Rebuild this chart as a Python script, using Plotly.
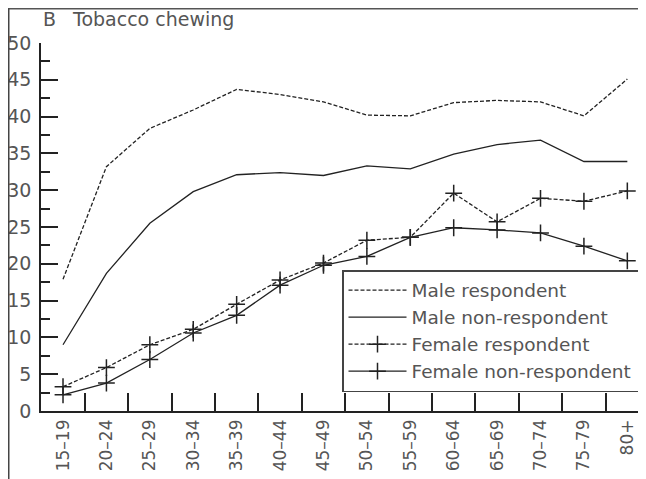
import plotly.graph_objects as go

ages = ["15–19", "20–24", "25–29", "30–34", "35–39", "40–44", "45–49",
        "50–54", "55–59", "60–64", "65–69", "70–74", "75–79", "80+"]
male_resp = [17.9, 33.2, 38.4, 40.9, 43.7, 43.0, 42.0, 40.2, 40.1, 41.9, 42.2, 42.0, 40.1, 45.1]
male_nonresp = [9.0, 18.7, 25.5, 29.8, 32.1, 32.4, 32.0, 33.3, 32.9, 34.9, 36.2, 36.8, 33.9, 33.9]
female_resp = [3.3, 5.9, 9.0, 11.1, 14.5, 17.8, 20.1, 23.2, 23.6, 29.6, 25.7, 28.9, 28.5, 29.9]
female_nonresp = [2.2, 3.8, 7.0, 10.6, 13.0, 17.1, 19.8, 21.0, 23.6, 24.9, 24.6, 24.2, 22.4, 20.4]
y_ticks = [0, 5, 10, 15, 20, 25, 30, 35, 40, 45, 50]

INK = "#222222"
TXT = "#555555"
FONT = "DejaVu Sans"
NBSP = "\u00a0"

# page has an 8px body margin; figure is placed at (8, 8)
OFF = 8
W, H = 646 - OFF, 479 - OFF
L, R, T = 41 - OFF, 0, 43 - OFF
B = H - (411 - OFF)
pw, ph = W - L - R, H - T - B


def px_x(p):
    return (p - OFF - L) / pw


def px_y(p):
    return (H - B - (p - OFF)) / ph


fig = go.Figure()
fig.add_trace(go.Scatter(x=ages, y=male_resp, name="Male respondent", mode="lines",
                         line=dict(color=INK, width=1.3, dash="4px,2px")))
fig.add_trace(go.Scatter(x=ages, y=male_nonresp, name="Male non-respondent", mode="lines",
                         line=dict(color=INK, width=1.3)))
fig.add_trace(go.Scatter(x=ages, y=female_resp, name="Female respondent", mode="lines+markers",
                         line=dict(color=INK, width=1.3, dash="4px,2px"),
                         marker=dict(symbol="cross-thin", size=12, color=INK,
                                     line=dict(color=INK, width=1.5))))
fig.add_trace(go.Scatter(x=ages, y=female_nonresp, name="Female non-respondent" + NBSP * 2,
                         mode="lines+markers",
                         line=dict(color=INK, width=1.3),
                         marker=dict(symbol="cross-thin", size=12, color=INK,
                                     line=dict(color=INK, width=1.5))))

fig.update_layout(
    width=W, height=H,
    margin=dict(l=L, r=R, t=T, b=B, autoexpand=False),
    paper_bgcolor="white", plot_bgcolor="white",
    font=dict(family=FONT, size=19, color=TXT),
    showlegend=True,
    legend=dict(x=px_x(342), y=px_y(270), xanchor="left", yanchor="top",
                bgcolor="white", bordercolor="#444444", borderwidth=1.5,
                font=dict(family=FONT, size=18.5, color=TXT),
                itemwidth=58, tracegroupgap=0),
    xaxis=dict(type="category", range=[-0.507, 13.43], showgrid=False, zeroline=False,
               showline=True, linecolor=INK, linewidth=1.5,
               ticks="inside", tickson="boundaries", ticklen=18, tickwidth=1.5, tickcolor=INK,
               tickangle=-90, tickfont=dict(family=FONT, size=17, color=TXT)),
    yaxis=dict(range=[0, 50], tickvals=y_ticks, showgrid=False, zeroline=False,
               showline=True, linecolor=INK, linewidth=1.5,
               ticks="inside", ticklen=17, tickwidth=1.5, tickcolor=INK,
               minor=dict(dtick=2.5, ticks="inside", ticklen=9, tickwidth=1.5, tickcolor=INK),
               tickfont=dict(family=FONT, size=19, color=TXT), ticklabelstandoff=4),
    annotations=[
        dict(text="B", xref="paper", yref="paper", x=px_x(42), y=px_y(19),
             xanchor="left", yanchor="middle", showarrow=False, borderpad=0,
             font=dict(family=FONT, size=19, color=TXT)),
        dict(text="Tobacco chewing", xref="paper", yref="paper", x=px_x(71), y=px_y(19),
             xanchor="left", yanchor="middle", showarrow=False, borderpad=0,
             font=dict(family=FONT, size=19, color=TXT)),
    ],
    shapes=[
        dict(type="line", xref="paper", yref="paper", x0=px_x(7), x1=px_x(660),
             y0=px_y(8.5), y1=px_y(8.5), line=dict(color="#555555", width=2)),
        dict(type="line", xref="paper", yref="paper", x0=px_x(8.5), x1=px_x(8.5),
             y0=px_y(8.5), y1=px_y(490), line=dict(color="#444444", width=2)),
    ],
)

fig.write_html("out.html")
